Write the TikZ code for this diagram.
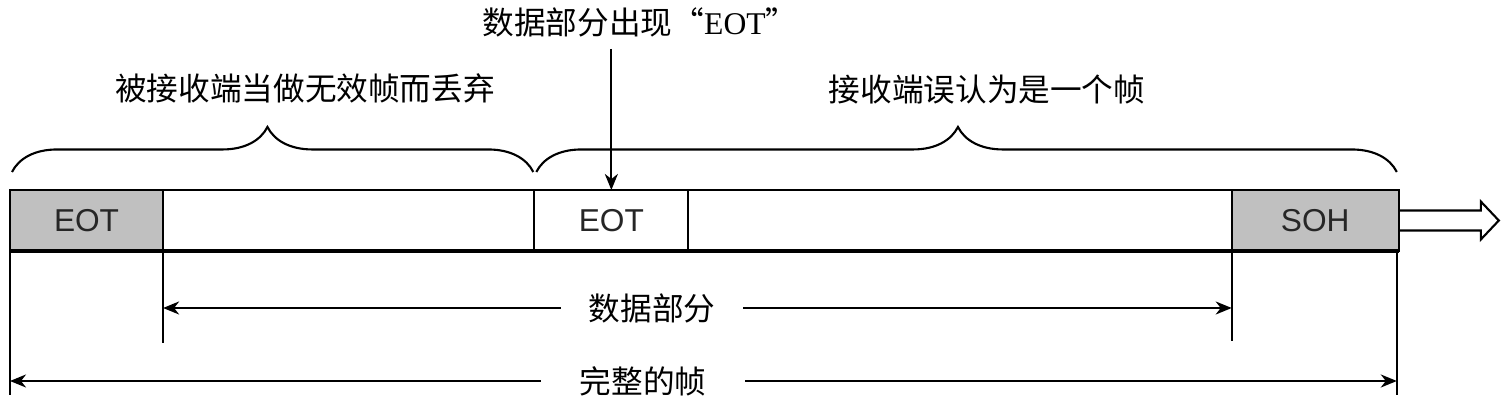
\documentclass[tikz,border=0pt]{standalone}
\usepackage{fontspec}
\setmainfont{Liberation Sans}
\newfontfamily\cjk{Noto Sans CJK SC}
\newfontfamily\quoted{Liberation Serif}
\usetikzlibrary{arrows.meta,positioning,decorations.pathreplacing}
\definecolor{flaggray}{RGB}{192,192,192}

\begin{document}
\begin{tikzpicture}[x=0.01cm,y=-0.01cm,line width=0.6pt,
                    >={Stealth[length=0.16cm,width=0.13cm,inset=0.05cm]},
                    field/.style={draw,minimum height=0.61cm,inner sep=0pt,outer sep=0pt,
                                  text=black!85,font=\fontsize{9pt}{11pt}\selectfont},
                    flag/.style={field,fill=flaggray},
                    note/.style={inner sep=0pt,font=\cjk\fontsize{9pt}{11pt}\selectfont},
                    bracket/.style={decorate,decoration={brace,amplitude=0.45cm,aspect=0.49}}]
  \useasboundingbox (0,0) rectangle (1504,404);

  % the frame on the line
  \node[flag,minimum width=1.53cm,anchor=north west] (eot1) at (10,190) {EOT};
  \node[field,minimum width=3.71cm,right=0pt of eot1] (data1) {};
  \node[field,minimum width=1.54cm,right=0pt of data1] (eot2) {EOT};
  \node[field,minimum width=5.43cm,right=0pt of eot2] (data2) {};
  \node[flag,minimum width=1.67cm,right=0pt of data2] (soh) {SOH};
  \draw[line width=1.2pt] (eot1.south west) -- (soh.south east);

  % direction of sending
  \draw (soh.east) ++(0,-10) -- ++(82,0) -- ++(0,-9) -- ++(18,19)
        -- ++(-18,19) -- ++(0,-9) -- ++(-82,0);

  % braces and their notes
  \draw[bracket] ([yshift=0.18cm,xshift=0.02cm]eot1.north west)
              -- ([yshift=0.18cm,xshift=-0.01cm]data1.north east);
  \draw[bracket] ([yshift=0.18cm,xshift=0.02cm]eot2.north west)
              -- ([yshift=0.18cm,xshift=-0.02cm]soh.north east);
  \node[note] (drop) at (305,88) {被接收端当做无效帧而丢弃};
  \node[note] (fake) at (987,90) {接收端误认为是一个帧};

  \node[note] (inside) at (640,22) {数据部分出现“{\quoted EOT}”};
  \draw[->] ([yshift=-0.11cm]eot2.north |- inside.south) -- (eot2.north);

  % lengths below
  \coordinate (d1) at ([yshift=-0.92cm]eot1.south east);
  \coordinate (d2) at ([yshift=-0.90cm]soh.south west);
  \coordinate (f1) at ([yshift=-1.44cm]eot1.south west);
  \coordinate (f2) at ([yshift=-1.44cm,xshift=-0.02cm]soh.south east);
  \draw (eot1.south east) -- (d1);
  \draw (soh.south west) -- (d2);
  \draw (eot1.south west) -- (f1);
  \draw ([xshift=-0.02cm]soh.south east) -- (f2);

  \node[note,inner xsep=0.27cm] (datalen) at (652,308) {数据部分};
  \draw[->] (datalen.west) -- (datalen.west -| d1);
  \draw[->] (datalen.east) -- (datalen.east -| d2);

  \node[note,inner xsep=0.38cm] (framelen) at (643,381) {完整的帧};
  \draw[->] (framelen.west) -- (framelen.west -| f1);
  \draw[->] (framelen.east) -- (framelen.east -| f2);
\end{tikzpicture}
\end{document}
